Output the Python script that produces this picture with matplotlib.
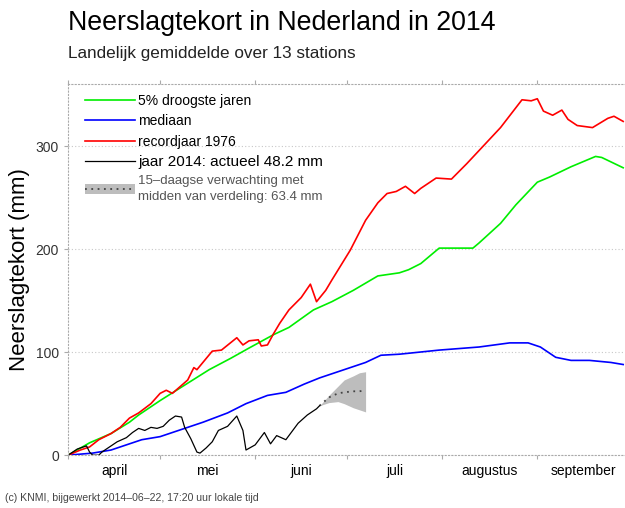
import matplotlib.pyplot as plt
from matplotlib.lines import Line2D
from matplotlib.patches import Patch

plt.rcParams['font.family'] = ['Liberation Sans', 'DejaVu Sans']

# day 0 = 1 april 2014
month_starts = [0, 30, 61, 91, 122, 153]
month_mids = [15, 45.5, 76, 106.5, 137.5, 168]
month_names = ['april', 'mei', 'juni', 'juli', 'augustus', 'september']

dry5_days = [0, 7, 14, 20, 23, 30, 46, 53, 59, 67, 72, 80, 86, 93, 101, 108, 111, 115,
             121, 132, 134, 141, 146, 153, 157, 164, 172, 174, 181]
dry5_vals = [0, 12, 21, 32, 39, 53, 83, 94, 104, 117, 124, 141, 149, 160, 174, 177, 180, 186,
             201, 201, 206, 225, 243, 265, 270, 280, 290, 289, 279]

median_days = [0, 8, 14, 19, 24, 30, 36, 44, 52, 58, 65, 71, 77, 82, 90, 97, 102, 108,
               121, 134, 144, 150, 154, 159, 164, 170, 177, 181]
median_vals = [0, 2, 5, 10, 15, 18, 24, 32, 41, 50, 58, 61, 69, 75, 83, 90, 97, 98,
               102, 105, 109, 109, 105, 95, 92, 92, 90, 88]

rec_days = [0, 4, 7, 10, 14, 17, 20, 23, 27, 30, 32, 34, 39, 41, 42, 47, 50, 55, 57, 59,
            62, 63, 65, 67, 69, 72, 76, 79, 81, 84, 86, 92, 97, 101, 104, 107, 110, 113,
            115, 120, 125, 130, 141, 148, 151, 153, 155, 158, 161, 163, 166, 171, 176,
            178, 181]
rec_vals = [0, 5, 8, 15, 21, 27, 36, 41, 50, 60, 63, 60, 73, 85, 83, 101, 102, 114, 107, 111,
            112, 106, 107, 118, 128, 141, 153, 166, 149, 160, 170, 199, 228, 245, 254, 256,
            261, 254, 259, 269, 268, 283, 318, 345, 344, 346, 334, 330, 335, 326, 320, 318,
            327, 329, 324]

y2014_days = [0, 3, 5, 6, 7, 8, 10, 11, 14, 16, 19, 21, 23, 25, 27, 29, 31, 33, 35, 37, 38,
              40, 42, 43, 45, 47, 49, 52, 55, 57, 58, 61, 64, 66, 68, 71, 75, 78, 81, 82]
y2014_vals = [0, 6, 8, 9, 3, 0, 0, 3, 9, 13, 17, 22, 26, 24, 27, 26, 28, 34, 38, 37, 27,
              16, 3, 2, 7, 13, 24, 28, 38, 24, 5, 10, 22, 11, 19, 15, 31, 39, 45, 48]

fc_days = [82, 85, 88, 90, 93, 95, 97]
fc_mid = [48, 56, 60, 61, 62, 62, 63]
fc_low = [48, 51, 52, 50, 46, 44, 42]
fc_high = [48, 58, 67, 73, 77, 80, 81]

fig = plt.figure(figsize=(6.25, 5.08), dpi=100)
ax = fig.add_axes([0.109, 0.104, 0.893, 0.730])

grey = '#aaaaaa'
ax.fill_between(fc_days, fc_low, fc_high, color='#bdbdbd', lw=0)
ax.plot(fc_days, fc_mid, color='#444444', lw=1.3, ls=(0, (1, 2.5)))
ax.plot(dry5_days, dry5_vals, color='#00ee00', lw=1.2)
ax.plot(median_days, median_vals, color='#0000ff', lw=1.2)
ax.plot(rec_days, rec_vals, color='#ff0000', lw=1.2)
ax.plot(y2014_days, y2014_vals, color='black', lw=0.9)

ax.set_xlim(0, 182)
ax.set_ylim(0, 360)

ax.set_yticks([0, 100, 200, 300])
ax.yaxis.grid(True, color='#c8c8c8', ls=(0, (1, 2)), lw=0.8)
ax.set_xticks(month_starts)
ax.set_xticklabels([])
ax.set_xticks(month_mids, minor=True)
ax.set_xticklabels(month_names, minor=True)
ax.tick_params(axis='x', which='minor', length=0, pad=6)
ax.tick_params(axis='x', which='major', length=3, color=grey, top=True)
ax.tick_params(axis='y', length=3, color=grey)
ax.tick_params(labelsize=10, labelcolor='#333333')

for side in ['left', 'top', 'bottom']:
    ax.spines[side].set_color(grey)
    ax.spines[side].set_linestyle((0, (1, 2)))
    ax.spines[side].set_linewidth(0.8)
ax.spines['right'].set_visible(False)

ax.set_ylabel('Neerslagtekort (mm)', fontsize=16, labelpad=4)

handles = [
    Line2D([], [], color='#00ee00', lw=1.2),
    Line2D([], [], color='#0000ff', lw=1.2),
    Line2D([], [], color='#ff0000', lw=1.2),
    Line2D([], [], color='black', lw=0.9),
    (Patch(color='#bdbdbd', lw=0), Line2D([], [], color='#444444', lw=1.3, ls=(0, (1, 2.5)))),
]
labels = ['5% droogste jaren', 'mediaan', 'recordjaar 1976',
          'jaar 2014: actueel 48.2 mm',
          '15\u2013daagse verwachting met\nmidden van verdeling: 63.4 mm']
leg = ax.legend(handles, labels, loc='upper left', frameon=False, fontsize=10,
                handlelength=3.6, handletextpad=0.25, labelspacing=0.45,
                borderaxespad=0.3, bbox_to_anchor=(0.012, 1.0))
texts = leg.get_texts()
texts[3].set_fontsize(11)
texts[4].set_color('#555555')
texts[4].set_fontsize(9.5)
texts[4].set_linespacing(1.45)

fig.text(0.109, 0.955, 'Neerslagtekort in Nederland in 2014', fontsize=19.3, va='center', ha='left')
fig.text(0.109, 0.895, 'Landelijk gemiddelde over 13 stations', fontsize=12.3, va='center', ha='left',
         color='#222222')
fig.text(0.008, 0.01, '(c) KNMI, bijgewerkt 2014\u201306\u201322, 17:20 uur lokale tijd',
         fontsize=7.6, color='#444444', ha='left', va='bottom')

fig.savefig('out.png', dpi=100)
